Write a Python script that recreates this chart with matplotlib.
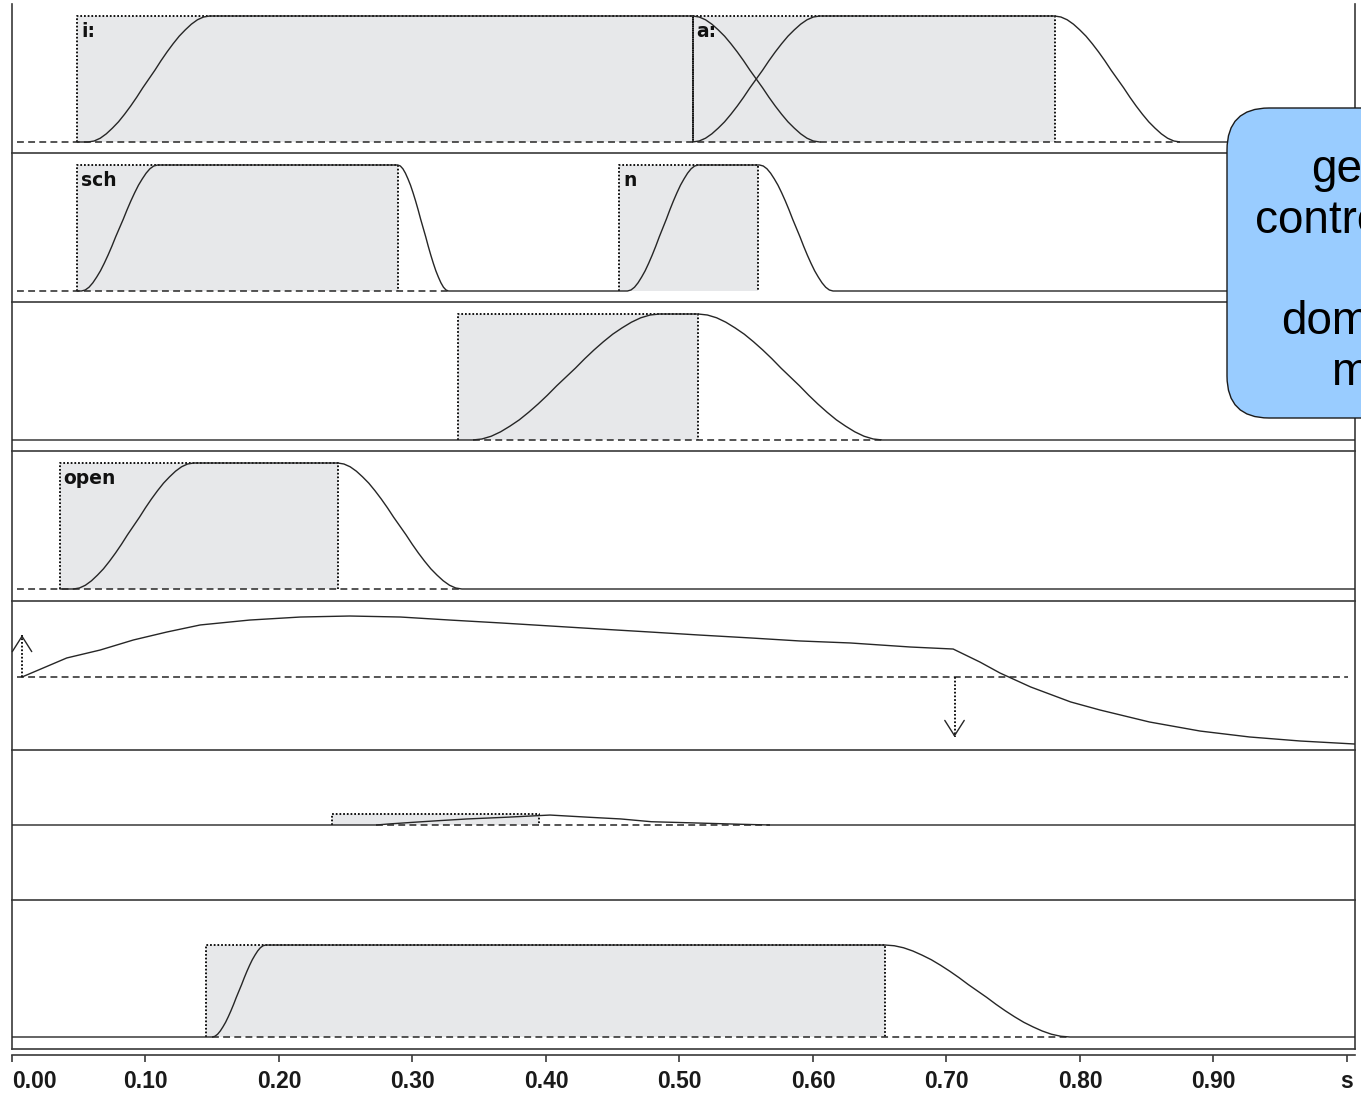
import matplotlib
matplotlib.use("Agg")
import matplotlib.pyplot as plt
from matplotlib.patches import FancyBboxPatch

W, H = 1361, 1093
X0, X1 = 12, 1355          # pixel columns of the score frame
PX_PER_S = 1335.0
T_END = (X1 - X0) / PX_PER_S
SCALE = 126.0              # pixels for activation 1.0

INK = "#262626"
FRAME = "#3a3a3a"
BOX_FILL = "#e7e8ea"

# normalised shape of one rise (u from 0 to 1)
RAMP_U = [0.0, 0.05, 0.1, 0.15, 0.2, 0.25, 0.3, 0.35, 0.4, 0.45, 0.5,
          0.55, 0.6, 0.65, 0.7, 0.75, 0.8, 0.85, 0.9, 0.95, 1.0]
RAMP_V = [0.0, 0.008, 0.03, 0.065, 0.11, 0.16, 0.22, 0.285, 0.355, 0.43, 0.5,
          0.57, 0.645, 0.715, 0.78, 0.84, 0.89, 0.935, 0.97, 0.992, 1.0]

# tier 1: vowels
VOWEL_LABELS = ["i:", "a:"]
VOWEL_BOX = [(0.049, 0.510), (0.510, 0.781)]
VOWEL_RISE = [(0.057, 0.148), (0.510, 0.605)]
VOWEL_FALL = [(0.510, 0.605), (0.781, 0.875)]
VOWEL_DASH = (0.004, 0.875)

# tier 2: consonants
CONS_LABELS = ["sch", "n"]
CONS_BOX = [(0.049, 0.289), (0.455, 0.559)]
CONS_RISE = [(0.052, 0.109), (0.461, 0.514)]
CONS_FALL = [(0.289, 0.327), (0.560, 0.615)]
CONS_DASH = (0.004, 0.327)

# tier 3: velum
VELIC_LABELS = [""]
VELIC_BOX = [(0.334, 0.514)]
VELIC_RISE = [(0.345, 0.485)]
VELIC_FALL = [(0.514, 0.652)]
VELIC_DASH = (0.345, 0.652)

# tier 4: glottis
GLOT_LABELS = ["open"]
GLOT_BOX = [(0.036, 0.244)]
GLOT_RISE = [(0.046, 0.136)]
GLOT_FALL = [(0.244, 0.337)]
GLOT_DASH = (0.004, 0.337)

# tier 5: F0 (relative to the dashed reference)
F0_T = [0.0075, 0.041, 0.066, 0.091, 0.116, 0.141, 0.178, 0.216, 0.253, 0.291,
        0.328, 0.366, 0.403, 0.440, 0.478, 0.515, 0.553, 0.590, 0.628, 0.673,
        0.705, 0.725, 0.740, 0.763, 0.793, 0.815, 0.852, 0.890, 0.927, 0.965, 1.006]
F0_V = [0.0, 0.151, 0.214, 0.294, 0.357, 0.413, 0.452, 0.476, 0.484, 0.476,
        0.452, 0.429, 0.405, 0.381, 0.357, 0.333, 0.310, 0.286, 0.270, 0.238,
        0.222, 0.119, 0.032, -0.079, -0.198, -0.262, -0.357, -0.429, -0.476, -0.508, -0.532]
F0_ARROW_T = [0.0075, 0.706]
F0_ARROW_V = [0.333, -0.476]
F0_DASH = (0.004, 1.001)

# tier 6: small bump
T6_BOX = (0.240, 0.395)
T6_LEVEL = 0.087
T6_T = [0.0, 0.273, 0.282, 0.300, 0.319, 0.341, 0.369, 0.403, 0.433, 0.456,
        0.479, 0.506, 0.545, 0.568, 1.006]
T6_V = [0.0, 0.0, 0.008, 0.021, 0.034, 0.048, 0.061, 0.079, 0.061, 0.048,
        0.026, 0.018, 0.006, 0.0, 0.0]
T6_DASH = (0.273, 0.568)

# tier 7: lung pressure
LUNG_LABELS = [""]
LUNG_BOX = [(0.145, 0.654)]
LUNG_RISE = [(0.150, 0.190)]
LUNG_FALL = [(0.654, 0.7925)]
LUNG_LEVEL = 0.73
LUNG_DASH = (0.150, 0.7925)

TICK_T = [0.0, 0.1, 0.2, 0.3, 0.4, 0.5, 0.6, 0.7, 0.8, 0.9, 1.0]
TICK_LABELS = ["0.00", "0.10", "0.20", "0.30", "0.40", "0.50", "0.60",
               "0.70", "0.80", "0.90", "s"]

NOTE = "gestural\ncontrol model\nis\ndominating\nmodel"

# pixel rows: frame top, frame bottom, zero line
TIER_ROWS = [(4, 153, 142), (153, 302, 291), (302, 451, 440), (451, 601, 589),
             (601, 750, 677), (750, 900, 825), (900, 1049, 1037)]


def tier_axes(fig, top, bottom, zero, show_top=True, show_bottom=False):
    ax = fig.add_axes([X0 / W, 1 - bottom / H, (X1 - X0) / W, (bottom - top) / H])
    ax.set_xlim(0, T_END)
    ax.set_ylim(-(bottom - zero) / SCALE, (zero - top) / SCALE)
    ax.set_xticks([])
    ax.set_yticks([])
    ax.patch.set_alpha(0)
    for s in ax.spines.values():
        s.set_color(FRAME)
        s.set_linewidth(1.2)
    ax.spines["top"].set_visible(show_top)
    ax.spines["bottom"].set_visible(show_bottom)
    return ax


def draw_box(ax, t0, t1, level, label=""):
    ax.fill_between([t0, t1], 0, level, color=BOX_FILL, lw=0, zorder=1)
    ax.plot([t0, t0, t1, t1], [0, level, level, 0], color="#111111", lw=1.4,
            dashes=(0.9, 1.0), zorder=2)
    if label:
        ax.annotate(label, (t0, level), xytext=(2.5, -4), textcoords="offset points",
                    ha="left", va="top", fontsize=13.5, fontweight="bold",
                    family="DejaVu Sans", color="#111111", zorder=4)


def dashed_zero(ax, span, level=0.0):
    ax.plot(span, [level, level], color=INK, lw=1.1, dashes=(4.5, 2.8), zorder=2)


def gesture_points(box, rise, fall, level):
    ts, vs = [box[0]], [0.0]
    for u, p in zip(RAMP_U, RAMP_V):
        ts.append(rise[0] + u * (rise[1] - rise[0]))
        vs.append(level * p)
    for u, p in zip(RAMP_U, RAMP_V):
        ts.append(fall[0] + u * (fall[1] - fall[0]))
        vs.append(level * (1 - p))
    return ts, vs


def gesture_tier(ax, labels, boxes, rises, falls, dash, level=1.0,
                 curve_from=None, joined=True):
    for lab, b in zip(labels, boxes):
        draw_box(ax, b[0], b[1], level, lab)
    dashed_zero(ax, dash)
    if joined:
        ts = [] if curve_from is None else [curve_from]
        vs = [] if curve_from is None else [0.0]
        for b, r, f in zip(boxes, rises, falls):
            gt, gv = gesture_points(b, r, f, level)
            ts += gt
            vs += gv
        ts.append(T_END)
        vs.append(0.0)
        ax.plot(ts, vs, color=INK, lw=1.0, zorder=3)
    else:
        n = len(boxes)
        for i, (b, r, f) in enumerate(zip(boxes, rises, falls)):
            gt, gv = gesture_points(b, r, f, level)
            if i == n - 1:
                gt.append(T_END)
                gv.append(0.0)
            ax.plot(gt, gv, color=INK, lw=1.0, zorder=3)


fig = plt.figure(figsize=(W / 100, H / 100), dpi=100)
fig.patch.set_facecolor("white")

axes = []
for i, (top, bottom, zero) in enumerate(TIER_ROWS):
    axes.append(tier_axes(fig, top, bottom, zero, show_top=(i > 0),
                          show_bottom=(i == len(TIER_ROWS) - 1)))

gesture_tier(axes[0], VOWEL_LABELS, VOWEL_BOX, VOWEL_RISE, VOWEL_FALL, VOWEL_DASH,
             joined=False)
gesture_tier(axes[1], CONS_LABELS, CONS_BOX, CONS_RISE, CONS_FALL, CONS_DASH)
gesture_tier(axes[2], VELIC_LABELS, VELIC_BOX, VELIC_RISE, VELIC_FALL, VELIC_DASH,
             curve_from=0.0)
gesture_tier(axes[3], GLOT_LABELS, GLOT_BOX, GLOT_RISE, GLOT_FALL, GLOT_DASH)

# F0
ax5 = axes[4]
dashed_zero(ax5, F0_DASH)
ax5.plot(F0_T, F0_V, color=INK, lw=1.0, zorder=3)
for t, v in zip(F0_ARROW_T, F0_ARROW_V):
    ax5.plot([t, t], [0, v], color="#111111", lw=1.4, dashes=(0.9, 1.0), zorder=3)
    ax5.annotate("", xy=(t, v), xytext=(t, v - 0.02 * (1 if v > 0 else -1)),
                 arrowprops=dict(arrowstyle="->,head_length=0.55,head_width=0.35",
                                 color=INK, lw=1.0, mutation_scale=20,
                                 shrinkA=0, shrinkB=0), zorder=3)

# tier 6
ax6 = axes[5]
draw_box(ax6, T6_BOX[0], T6_BOX[1], T6_LEVEL)
dashed_zero(ax6, T6_DASH)
ax6.plot(T6_T, T6_V, color=INK, lw=1.0, zorder=3)

gesture_tier(axes[6], LUNG_LABELS, LUNG_BOX, LUNG_RISE, LUNG_FALL, LUNG_DASH,
             level=LUNG_LEVEL, curve_from=0.0)

# time axis
axt = fig.add_axes([X0 / W, 1 - 1055 / H, (X1 - X0) / W, 1e-4])
axt.set_xlim(0, T_END)
axt.set_yticks([])
for side in ["top", "left", "right"]:
    axt.spines[side].set_visible(False)
axt.spines["bottom"].set_color(FRAME)
axt.spines["bottom"].set_linewidth(1.2)
axt.set_xticks(TICK_T)
axt.set_xticklabels(TICK_LABELS, fontsize=16.5, fontweight="bold",
                    family="Liberation Sans", color="#1a1a1a")
axt.tick_params(axis="x", direction="out", length=5, width=1.2, pad=6, colors=FRAME,
                labelcolor="#1a1a1a")
axt.get_xticklabels()[0].set_ha("left")
axt.patch.set_alpha(0)

# call-out box on the right
ov = fig.add_axes([0, 0, 1, 1])
ov.set_xlim(0, W)
ov.set_ylim(H, 0)
ov.axis("off")
ov.add_patch(FancyBboxPatch((1227, 108), 400, 310,
                            boxstyle="round,pad=0,rounding_size=42",
                            fc="#99ccff", ec="#1a1a1a", lw=1.0))
ov.text(1393, 385, NOTE, ha="center", va="baseline", multialignment="center",
        fontsize=33, family="Liberation Sans", linespacing=1.2, color="black")

fig.savefig("out.png", dpi=100)
